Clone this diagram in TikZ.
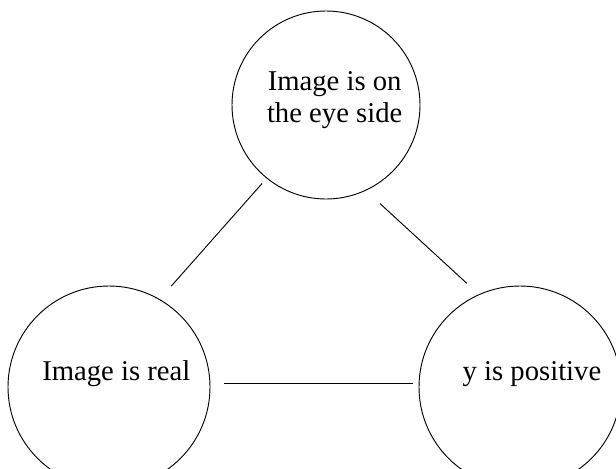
\documentclass[tikz,border=0pt]{standalone}
\usepackage{fontspec}
\setmainfont{Liberation Serif}
\usetikzlibrary{positioning}

\begin{document}
\begin{tikzpicture}[
    x=0.75pt, y=-0.75pt,
    stmt/.style={circle, draw=black, line width=0.7pt, inner sep=0pt, minimum size=#1, align=center, font=\fontsize{21.5}{24}\selectfont, text height=15pt, text depth=25.5pt},
    stmt/.default=151.5pt,
    link/.style={draw=black, line width=0.7pt}
]
    \useasboundingbox (0,0) rectangle (616,468);

    \node [stmt=141pt, text height=40pt, text depth=14.5pt] (eye) at (326,105) {\hspace*{13pt}Image is on\\\hspace*{13pt}the eye side};
    \node [stmt] (real) at (109,387) {\hspace*{11pt}Image is real};
    \node [stmt] (pos) at (520,387) {\hspace*{18pt}y is positive};

    \draw [link, shorten <=5pt, shorten >=13pt] (eye.231) -- (real.60);
    \draw [link, shorten <=14.3pt, shorten >=12.2pt] (eye.295.6) -- (pos.114.7);
    \draw [link, shorten <=10pt, shorten >=4.5pt] (real.2) -- (pos.178);
\end{tikzpicture}
\end{document}
